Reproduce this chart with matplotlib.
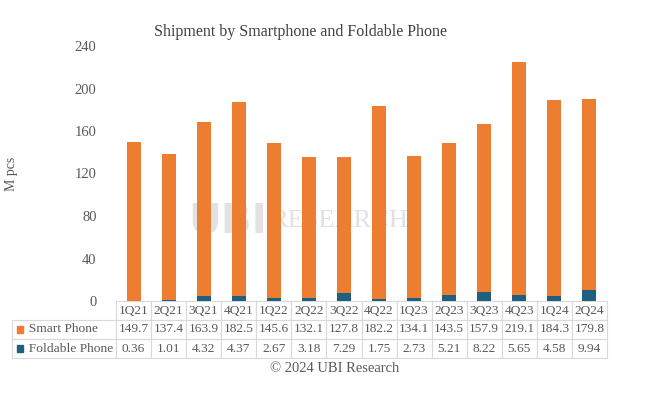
import numpy as np
import matplotlib
matplotlib.use('Agg')
import matplotlib.pyplot as plt
from matplotlib.patches import Rectangle

quarters = ['1Q21', '2Q21', '3Q21', '4Q21', '1Q22', '2Q22', '3Q22', '4Q22',
            '1Q23', '2Q23', '3Q23', '4Q23', '1Q24', '2Q24']
smart = [149.7, 137.4, 163.9, 182.5, 145.6, 132.1, 127.8, 182.2,
         134.1, 143.5, 157.9, 219.1, 184.3, 179.8]
foldable = [0.36, 1.01, 4.32, 4.37, 2.67, 3.18, 7.29, 1.75,
            2.73, 5.21, 8.22, 5.65, 4.58, 9.94]
yticks = [0, 40, 80, 120, 160, 200, 240]

orange = '#ED7D31'
blue = '#1F5F7F'
grey = '#595959'

plt.rcParams['font.family'] = ['Liberation Serif', 'DejaVu Serif']

fig = plt.figure(figsize=(6.6, 3.95), dpi=100)
ax = fig.add_axes([116 / 660, 1 - 301 / 395, 491 / 660, 255 / 395])

x = np.arange(len(quarters))
# smartphone sits on top of foldable in the picture
ax.bar(x, foldable, width=0.4, color=blue, zorder=3)
ax.bar(x, smart, width=0.4, bottom=foldable, color=orange, zorder=3)

ax.set_xlim(-0.5, len(quarters) - 0.5)
ax.set_ylim(0, 240)
ax.set_yticks(yticks)
ax.tick_params(axis='y', length=0, labelsize=10.5, labelcolor=grey, pad=14)
ax.set_xticks([])
for s in ax.spines.values():
    s.set_visible(False)
ax.set_ylabel('M pcs', color=grey, fontsize=10)
ax.yaxis.set_label_coords(-0.2, 0.5)

# data table under the bars
cells = [[''] + quarters,
         ['  Smart Phone'] + [f'{v:.1f}' for v in smart],
         ['  Foldable Phone'] + [f'{v:.2f}' for v in foldable]]
lab_w = 104 / 491
col_w = 1 / 14
tbl = ax.table(cellText=cells, cellLoc='center',
               colWidths=[lab_w] + [col_w] * 14,
               bbox=[-lab_w, -57 / 255, lab_w + 1, 57 / 255])
tbl.auto_set_font_size(False)
tbl.set_fontsize(9.6)
for (r, c), cell in tbl.get_celld().items():
    cell.set_edgecolor('#D9D9D9')
    cell.set_linewidth(0.8)
    cell.get_text().set_color(grey)
    if c == 0:
        cell.get_text().set_ha('left')
        cell.get_text().set_fontsize(9.7)
    if r == 0 and c == 0:
        cell.set_edgecolor('white')

# legend squares in the row label cells
for row, col in [(1, orange), (2, blue)]:
    yc = -57 / 255 + (3 - row - 0.5) * 19 / 255
    ax.add_patch(Rectangle((-lab_w + 5 / 491, yc - 3.5 / 255), 6 / 491, 7 / 255,
                           transform=ax.transAxes, color=col, clip_on=False, zorder=5))

# watermark behind the bars
ax.text(0.405, 0.44, 'UBI', fontsize=29, fontweight='bold', color='#E2E2E2',
        ha='right', va='center', family='DejaVu Sans', zorder=1,
        transform=fig.transFigure)
ax.text(0.41, 0.44, 'RESEARCH', fontsize=19, color='#E2E2E2',
        ha='left', va='center', zorder=1, transform=fig.transFigure)

fig.text(300 / 660, 1 - 32 / 395, 'Shipment by Smartphone and Foldable Phone',
         ha='center', va='center', fontsize=11.5, color='#404040')
fig.text(335 / 660, 1 - 369 / 395, '\u00a9 2024 UBI Research',
         ha='center', va='center', fontsize=10.5, color=grey)

fig.savefig('out.png', dpi=100, facecolor='white')
